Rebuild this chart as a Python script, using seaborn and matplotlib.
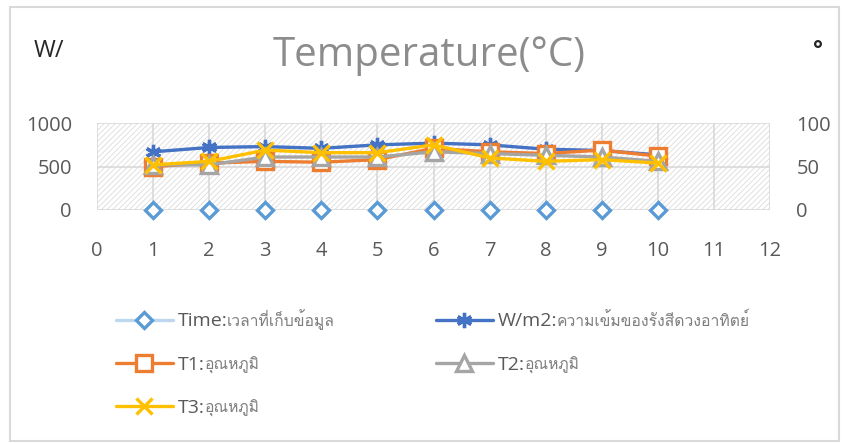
import matplotlib
matplotlib.use("Agg")
import matplotlib.pyplot as plt
from matplotlib import font_manager
from matplotlib.ft2font import FT2Font
from matplotlib.patches import Rectangle
from matplotlib.lines import Line2D
import numpy as np
import pandas as pd
import seaborn as sns

# data
points = [1, 2, 3, 4, 5, 6, 7, 8, 9, 10]
time_vals = [0, 0, 0, 0, 0, 0, 0, 0, 0, 0]
wm2_vals = [670, 720, 730, 710, 750, 770, 750, 700, 685, 635]
t1_vals = [50, 54, 56, 55, 58, 71, 67, 65, 69, 62]
t2_vals = [52, 52, 61, 61, 61, 67, 65, 63, 61, 56]
t3_vals = [52, 56, 69, 66, 66, 75, 60, 56, 58, 54]

# series names: latin part + thai part (thai is set smaller in the legend)
names = ["Time:", "W/m2:", "T1:", "T2:", "T3:"]
names_th = ["เวลาที่เก็บข้อมูล", "ความเข้มของรังสีดวงอาทิตย์",
            "อุณหภูมิ", "อุณหภูมิ", "อุณหภูมิ"]
left_ticks = [0, 500, 1000]
right_ticks = [0, 50, 100]
x_ticks = list(range(0, 13))


def find_thai_font():
    for f in font_manager.fontManager.ttflist:
        try:
            if 0x0E01 in FT2Font(f.fname).get_charmap():
                return f.name
        except Exception:
            pass
    return None


sns.set_style("white")
thai = find_thai_font()
fams = ["Open Sans", "DejaVu Sans"]
if thai:
    fams.insert(1, thai)
plt.rcParams["font.family"] = fams
plt.rcParams["hatch.linewidth"] = 0.6

df = pd.DataFrame({"x": points, "time": time_vals, "wm2": wm2_vals,
                   "t1": t1_vals, "t2": t2_vals, "t3": t3_vals})

fig = plt.figure(figsize=(8.42, 4.43), dpi=100)
ax = fig.add_axes([0.1152, 0.526, 0.7993, 0.196])
ax2 = ax.twinx()

# hatched plot area
ax.add_patch(Rectangle((0, 0), 12, 1000, facecolor="white", edgecolor="#dcdcdc",
                       hatch="//////", linewidth=0, zorder=0))

for v in x_ticks:
    ax.axvline(v, color="#d9d9d9", lw=1.2, zorder=1)
for v in left_ticks:
    ax.axhline(v, color="#d9d9d9", lw=1.2, zorder=1)

grey = "#595959"
kw = dict(linewidth=2.4, markersize=11, markeredgewidth=2.4, clip_on=False)
sns.lineplot(data=df, x="x", y="time", ax=ax, linestyle="none", marker="D",
             markerfacecolor="white", markeredgecolor="#5b9bd5", markersize=8.5,
             markeredgewidth=2.4, clip_on=False, zorder=5)
sns.lineplot(data=df, x="x", y="wm2", ax=ax, color="#4472c4", marker=(6, 2, 0),
             markeredgecolor="#4472c4", zorder=5, **kw)
sns.lineplot(data=df, x="x", y="t1", ax=ax2, color="#ed7d31", marker="s",
             markerfacecolor="white", markeredgecolor="#ed7d31", zorder=5, **kw)
sns.lineplot(data=df, x="x", y="t2", ax=ax2, color="#a5a5a5", marker="^",
             markerfacecolor="white", markeredgecolor="#a5a5a5", zorder=5, **kw)
sns.lineplot(data=df, x="x", y="t3", ax=ax2, color="#ffc000", marker="x",
             markeredgecolor="#ffc000", zorder=5, **kw)

ax.set_xlim(0, 12)
ax.set_ylim(0, 1000)
ax2.set_ylim(0, 100)
ax.set_xticks(x_ticks)
ax.set_yticks(left_ticks)
ax2.set_yticks(right_ticks)
ax.set_xlabel("")
ax.set_ylabel("")
ax2.set_ylabel("")
ax.tick_params(axis="both", length=0, labelsize=14.5, labelcolor=grey)
ax.tick_params(axis="x", pad=22)
ax.tick_params(axis="y", pad=18)
ax2.tick_params(axis="y", length=0, labelsize=14.5, labelcolor=grey, pad=19)
for a in (ax, ax2):
    for s in a.spines.values():
        s.set_visible(False)

fig.text(0.51, 0.875, "Temperature(°C)", ha="center", va="center",
         fontsize=29, color="#8c8c8c")
fig.text(0.04, 0.885, "W/", ha="left", va="center", fontsize=17, color="#262626")
fig.text(0.966, 0.885, "°", ha="left", va="center", fontsize=17, color="#262626",
         fontweight="bold")

h_time = Line2D([], [], color="#bdd7ee", lw=2.4, marker="D", markersize=8.5,
                markerfacecolor="white", markeredgecolor="#5b9bd5", markeredgewidth=2.4)
h_wm2 = Line2D([], [], color="#4472c4", lw=2.4, marker=(6, 2, 0), markersize=11,
               markeredgecolor="#4472c4", markeredgewidth=2.4)
h_t1 = Line2D([], [], color="#ed7d31", lw=2.4, marker="s", markersize=11,
              markerfacecolor="white", markeredgecolor="#ed7d31", markeredgewidth=2.4)
h_t2 = Line2D([], [], color="#a5a5a5", lw=2.4, marker="^", markersize=11,
              markerfacecolor="white", markeredgecolor="#a5a5a5", markeredgewidth=2.4)
h_t3 = Line2D([], [], color="#ffc000", lw=2.4, marker="x", markersize=11,
              markeredgecolor="#ffc000", markeredgewidth=2.4)

# legend laid out row by row, as in the reference
leg_kw = dict(loc="upper left", frameon=False, fontsize=14, labelcolor=grey,
              handlelength=2.9, labelspacing=1.3, handletextpad=0.25,
              borderaxespad=0, borderpad=0)
col1 = fig.legend([h_time, h_t1, h_t3], [names[0], names[2], names[4]],
                  bbox_to_anchor=(0.138, 0.295), **leg_kw)
col2 = fig.legend([h_wm2, h_t2], [names[1], names[3]],
                  bbox_to_anchor=(0.518, 0.295), **leg_kw)

# thai part of every label, set smaller right after the latin part
fig.canvas.draw()
r = fig.canvas.get_renderer()
inv = fig.transFigure.inverted()
pairs = [(col1.get_texts()[0], names_th[0]), (col2.get_texts()[0], names_th[1]),
         (col1.get_texts()[1], names_th[2]), (col2.get_texts()[1], names_th[3]),
         (col1.get_texts()[2], names_th[4])]
for t, th in pairs:
    bb = t.get_window_extent(r)
    x0, _ = inv.transform((bb.x1, 0))
    _, yb = inv.transform((0, bb.y0 + 0.22 * bb.height))
    fig.text(x0, yb, th, ha="left", va="baseline", fontsize=11.3, color="#7f7f7f")

fig.add_artist(Rectangle((0.012, 0.005), 0.985, 0.98, transform=fig.transFigure,
                         fill=False, edgecolor="#d9d9d9", lw=1.5))

fig.savefig("out.png", dpi=100)
